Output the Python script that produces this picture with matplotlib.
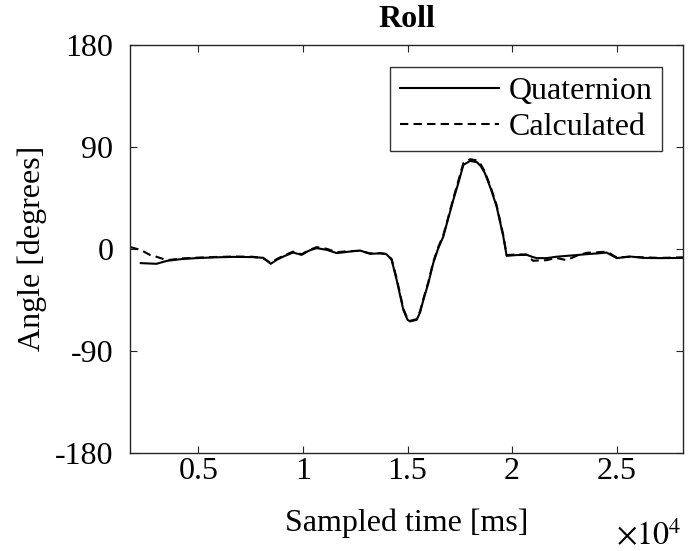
import matplotlib
matplotlib.use("Agg")
import matplotlib.pyplot as plt

plt.rcParams['font.family'] = ['Liberation Serif', 'DejaVu Serif']
plt.rcParams['mathtext.fontset'] = 'stix'

# Quaternion (solid) roll angle, sampled time [ms] vs degrees
quat_t = [2250, 3000, 3500, 4200, 4900, 5800, 6700, 7600, 8100, 8460, 8750,
          9100, 9530, 9940, 10300, 10660, 11140, 11620, 12200, 12730, 13210,
          13700, 14000, 14240, 14480, 14800, 15000, 15120, 15440, 15600, 15760,
          16000, 16230, 16470, 16710, 16950, 17190, 17430, 17670, 17990, 18310,
          18500, 18700, 19000, 19260, 19580, 19740, 20200, 20700, 20950, 21180,
          21650, 22100, 22610, 23100, 23570, 24100, 24520, 25000, 25640, 26300,
          27070, 28170]
quat_y = [-12.6, -13.2, -10.6, -9.0, -8.2, -7.5, -7.1, -7.3, -7.9, -13.2, -9.7,
          -6.5, -3.3, -5.3, -1.5, 0.6, -0.9, -3.8, -2.5, -1.5, -4.4,
          -4.0, -4.8, -9.7, -27.3, -53.8, -62.5, -64.0, -62.6, -56.0, -45.0,
          -30.0, -12.6, 0.5, 10.8, 27.0, 43.2, 58.0, 74.0, 77.5, 76.5,
          73.0, 66.7, 52.0, 37.3, 10.8, -6.2, -5.5, -5.3, -7.0, -8.2,
          -8.2, -7.0, -6.2, -5.5, -4.7, -4.0, -3.3, -8.2, -6.8, -8.0,
          -8.2, -8.0]

# Calculated (dashed) roll angle
calc_t = [1750, 2250, 2700, 3000, 3500, 4200, 4900, 5800, 6700, 7600, 8100,
          8460, 8750, 9100, 9530, 9940, 10300, 10660, 11140, 11620, 12200,
          12730, 13210, 13700, 14000, 14240, 14480, 14800, 15000, 15120, 15440,
          15600, 15760, 16000, 16230, 16470, 16710, 16950, 17190, 17430, 17670,
          17990, 18310, 18500, 18700, 19000, 19260, 19580, 19740, 20200, 20700,
          21000, 21650, 22100, 22610, 23100, 23570, 24100, 24520, 25000, 25640,
          26300, 27070, 28170]
calc_y = [1.5, -1.0, -5.5, -7.0, -10.0, -8.5, -7.8, -7.2, -6.8, -7.0, -8.2,
          -12.5, -9.0, -5.8, -2.5, -4.8, -1.0, 1.5, 0.0, -3.0, -2.0,
          -1.8, -4.0, -3.8, -4.5, -9.0, -26.0, -52.5, -62.0, -63.5, -62.0,
          -55.0, -44.0, -29.0, -11.5, 1.5, 12.0, 28.0, 44.5, 60.0, 75.5,
          79.0, 78.0, 74.5, 68.0, 53.0, 38.5, 12.0, -5.5, -5.0, -5.0,
          -10.5, -10.0, -8.0, -10.0, -6.0, -3.5, -3.0, -2.5, -7.5, -7.0,
          -7.5, -8.0, -7.5]

y_ticks = [-180, -90, 0, 90, 180]
x_ticks = [5000, 10000, 15000, 20000, 25000]
x_labels = ['0.5', '1', '1.5', '2', '2.5']

fig = plt.figure(figsize=(6.92, 5.51), dpi=100)
ax = fig.add_axes([0.1879, 0.1779, 0.7991, 0.741])

ax.plot(quat_t, quat_y, color='black', linewidth=1.5, label='Quaternion')
ax.plot(calc_t, calc_y, color='black', linewidth=1.5, linestyle=(0, (4, 2.5)),
        label='Calculated')

ax.set_xlim(1735, 28170)
ax.set_ylim(-180, 180)
ax.set_yticks(y_ticks)
ax.set_yticklabels([str(v) for v in y_ticks])
ax.set_xticks(x_ticks)
ax.set_xticklabels(x_labels)

axis_col = '#262626'
for sp in ax.spines.values():
    sp.set_color(axis_col)
    sp.set_linewidth(1.0)
ax.tick_params(direction='in', length=5, width=0.8, color=axis_col,
               top=True, right=True, labelsize=23)
ax.tick_params(axis='y', pad=12)
ax.tick_params(axis='x', pad=3)

ax.set_title('Roll', fontsize=23, fontweight='bold', pad=13)
ax.set_xlabel('Sampled time [ms]', fontsize=23, labelpad=16)
ax.set_ylabel('Angle [degrees]', fontsize=23, labelpad=6)

fig.text(0.985, -0.002, r'$\times10^{4}$', fontsize=23, ha='right', va='bottom')

leg = ax.legend(loc='upper right', fontsize=23, handlelength=3.1,
                frameon=True, fancybox=False, borderpad=0.3,
                labelspacing=0.2, handletextpad=0.3,
                bbox_to_anchor=(0.962, 0.945), borderaxespad=0)
leg.get_frame().set_edgecolor('black')
leg.get_frame().set_linewidth(1.0)

fig.savefig('out.png', dpi=100)
